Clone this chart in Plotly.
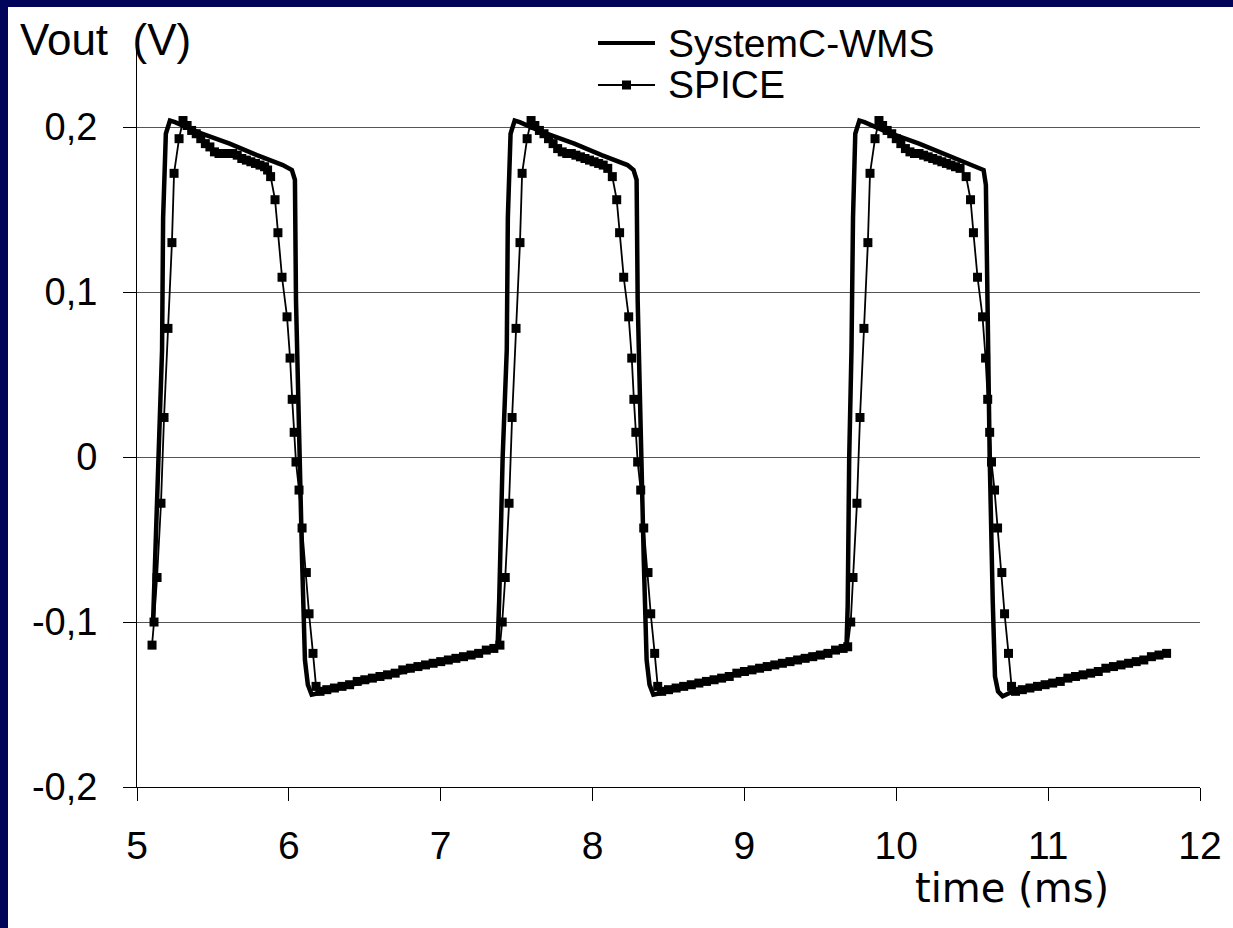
import plotly.graph_objects as go

# ---------------- data ----------------
# SystemC-WMS (thick line)
sysc_t = [5.105, 5.138, 5.165, 5.172, 5.19, 5.217, 5.25, 5.40, 5.61, 5.79, 5.96, 6.02, 6.04, 6.047, 6.067, 6.087, 6.106, 6.125, 6.15, 6.20, 6.50, 6.80, 7.10, 7.36, 7.375,
          7.385, 7.408, 7.435, 7.442, 7.46, 7.487, 7.52, 7.67, 7.88, 8.06, 8.23, 8.27, 8.29, 8.297, 8.317, 8.337, 8.356, 8.375, 8.40, 8.45, 8.80, 9.10, 9.40, 9.665, 9.672,
          9.68, 9.69, 9.705, 9.715, 9.73, 9.757, 9.79, 9.94, 10.15, 10.33, 10.50, 10.575, 10.59, 10.60, 10.615, 10.635, 10.65, 10.67, 10.70, 10.77, 11.10, 11.40, 11.78]
sysc_v = [-0.102, 0.0, 0.065, 0.145, 0.196, 0.204, 0.203, 0.197, 0.190, 0.183, 0.177, 0.174, 0.168, 0.095, 0.0, -0.062, -0.123, -0.138, -0.144, -0.143, -0.136, -0.129, -0.122, -0.116, -0.114,
          -0.087, 0.0, 0.065, 0.145, 0.196, 0.204, 0.203, 0.197, 0.190, 0.183, 0.177, 0.174, 0.168, 0.095, 0.0, -0.062, -0.123, -0.138, -0.144, -0.143, -0.135, -0.128, -0.121, -0.116, -0.115,
          -0.09, 0.0, 0.065, 0.145, 0.196, 0.204, 0.203, 0.197, 0.190, 0.183, 0.177, 0.174, 0.165, 0.095, 0.0, -0.087, -0.133, -0.142, -0.145, -0.142, -0.135, -0.128, -0.119]

# SPICE (thin line with square markers), one list pair per period
spice_t_1 = [5.099, 5.112, 5.132, 5.158, 5.178, 5.204, 5.230, 5.244, 5.277, 5.303,
             5.33, 5.36, 5.39, 5.42, 5.45, 5.48, 5.51, 5.54, 5.57, 5.60, 5.63, 5.66, 5.69, 5.72, 5.75, 5.78, 5.81, 5.84, 5.86, 5.88,
             5.909, 5.928, 5.955, 5.988, 6.008, 6.022, 6.035, 6.047, 6.067, 6.087, 6.115, 6.133, 6.159, 6.179, 6.205,
             6.25, 6.30, 6.35, 6.40, 6.45, 6.50, 6.55, 6.60, 6.65, 6.70, 6.75, 6.80, 6.85, 6.90, 6.95, 7.00, 7.05, 7.10, 7.15, 7.20, 7.25, 7.30, 7.35, 7.39]
spice_v_1 = [-0.114, -0.100, -0.073, -0.028, 0.024, 0.078, 0.130, 0.172, 0.193, 0.204,
             0.201, 0.198, 0.196, 0.193, 0.190, 0.188, 0.185, 0.184, 0.184, 0.184, 0.184, 0.183, 0.181, 0.180, 0.179, 0.178, 0.177, 0.176, 0.174, 0.170,
             0.156, 0.136, 0.109, 0.085, 0.060, 0.035, 0.015, -0.003, -0.020, -0.043, -0.070, -0.095, -0.119, -0.139, -0.142,
             -0.141, -0.140, -0.139, -0.138, -0.136, -0.135, -0.134, -0.133, -0.132, -0.131, -0.129, -0.128, -0.127, -0.126, -0.125, -0.124, -0.123, -0.122, -0.121, -0.120, -0.119, -0.117, -0.116, -0.114]

spice_t_2 = [7.405, 7.425, 7.450, 7.470, 7.496, 7.522, 7.536, 7.569, 7.595,
             7.62, 7.65, 7.68, 7.71, 7.74, 7.77, 7.80, 7.83, 7.86, 7.89, 7.92, 7.95, 7.98, 8.01, 8.04, 8.07, 8.10, 8.13,
             8.159, 8.178, 8.205, 8.238, 8.258, 8.272, 8.285, 8.297, 8.317, 8.337, 8.365, 8.383, 8.409, 8.429, 8.455,
             8.50, 8.55, 8.60, 8.65, 8.70, 8.75, 8.80, 8.85, 8.90, 8.95, 9.00, 9.05, 9.10, 9.15, 9.20, 9.25, 9.30, 9.35, 9.40, 9.45, 9.50, 9.55, 9.60, 9.65, 9.68]
spice_v_2 = [-0.100, -0.073, -0.028, 0.024, 0.078, 0.130, 0.172, 0.193, 0.204,
             0.201, 0.198, 0.196, 0.193, 0.190, 0.187, 0.185, 0.184, 0.184, 0.183, 0.182, 0.181, 0.180, 0.179, 0.178, 0.177, 0.175, 0.170,
             0.156, 0.136, 0.109, 0.085, 0.060, 0.035, 0.015, -0.003, -0.020, -0.043, -0.070, -0.095, -0.119, -0.139, -0.142,
             -0.141, -0.140, -0.139, -0.138, -0.137, -0.136, -0.135, -0.134, -0.133, -0.131, -0.130, -0.129, -0.128, -0.127, -0.126, -0.125, -0.124, -0.123, -0.122, -0.121, -0.120, -0.119, -0.117, -0.116, -0.115]

spice_t_3 = [9.70, 9.715, 9.741, 9.761, 9.787, 9.813, 9.827, 9.860, 9.886,
             9.91, 9.94, 9.97, 10.00, 10.03, 10.06, 10.09, 10.12, 10.15, 10.18, 10.21, 10.24, 10.27, 10.30, 10.33, 10.36, 10.39, 10.42, 10.46,
             10.489, 10.508, 10.535, 10.568, 10.588, 10.602, 10.615, 10.627, 10.647, 10.667, 10.695, 10.713, 10.739, 10.759, 10.785,
             10.83, 10.88, 10.93, 10.98, 11.03, 11.08, 11.13, 11.18, 11.23, 11.28, 11.33, 11.38, 11.43, 11.48, 11.53, 11.58, 11.63, 11.68, 11.73, 11.78]
spice_v_3 = [-0.100, -0.073, -0.028, 0.024, 0.078, 0.130, 0.172, 0.193, 0.204,
             0.201, 0.198, 0.196, 0.193, 0.190, 0.187, 0.185, 0.184, 0.184, 0.183, 0.182, 0.181, 0.180, 0.179, 0.178, 0.177, 0.176, 0.175, 0.170,
             0.156, 0.136, 0.109, 0.085, 0.060, 0.035, 0.015, -0.003, -0.020, -0.043, -0.070, -0.095, -0.119, -0.139, -0.142,
             -0.141, -0.140, -0.139, -0.138, -0.137, -0.136, -0.134, -0.133, -0.132, -0.131, -0.130, -0.128, -0.127, -0.126, -0.125, -0.124, -0.123, -0.121, -0.120, -0.119]

x_ticks = [5, 6, 7, 8, 9, 10, 11, 12]
y_ticks = [-0.2, -0.1, 0.0, 0.1, 0.2]
y_tick_labels = ["-0,2", "-0,1", "0", "0,1", "0,2"]

series_names = ["SystemC-WMS", "SPICE"]

spice_t = spice_t_1 + spice_t_2 + spice_t_3
spice_v = spice_v_1 + spice_v_2 + spice_v_3

# ---------------- figure ----------------
W, H = 1233, 928
ML, MR, MT, MB = 137, 33, 43, 141
PW, PH = W - ML - MR, H - MT - MB
ARIAL = "Liberation Sans, Arial, sans-serif"


def px(xp):
    return (xp - ML) / PW


def py(yp):
    return (H - MB - yp) / PH


fig = go.Figure()
fig.add_trace(go.Scatter(x=sysc_t, y=sysc_v, mode="lines", name=series_names[0],
                         line=dict(color="black", width=4.5)))
fig.add_trace(go.Scatter(x=spice_t, y=spice_v, mode="lines+markers", name=series_names[1],
                         line=dict(color="black", width=1.8),
                         marker=dict(symbol="square", size=9, color="black")))

NAVY = "#02045a"
LEG_Y1, LEG_Y2 = 43, 85
shapes = [
    # navy slide frame: top band and left band
    dict(type="rect", xref="paper", yref="paper", x0=px(-5), x1=px(W + 5), y0=py(7), y1=py(-5),
         fillcolor=NAVY, line=dict(width=0), layer="above"),
    dict(type="rect", xref="paper", yref="paper", x0=px(-5), x1=px(8), y0=py(H + 5), y1=py(-5),
         fillcolor=NAVY, line=dict(width=0), layer="above"),
    # legend samples
    dict(type="line", xref="paper", yref="paper", x0=px(598), x1=px(655), y0=py(LEG_Y1), y1=py(LEG_Y1),
         line=dict(color="black", width=4)),
    dict(type="line", xref="paper", yref="paper", x0=px(598), x1=px(655), y0=py(LEG_Y2), y1=py(LEG_Y2),
         line=dict(color="black", width=1.8)),
    dict(type="rect", xref="paper", yref="paper", x0=px(622), x1=px(631), y0=py(LEG_Y2 + 4.5), y1=py(LEG_Y2 - 4.5),
         fillcolor="black", line=dict(width=0)),
]

annotations = [
    dict(text="Vout\u00a0\u00a0(V)", xref="paper", yref="paper", x=px(18), y=py(40), xanchor="left", yanchor="middle",
         showarrow=False, font=dict(family=ARIAL, size=44, color="black")),
    dict(text="time (ms)", xref="paper", yref="paper", x=px(1012), y=py(888), xanchor="center", yanchor="middle",
         showarrow=False, font=dict(family="DejaVu Sans, Verdana, sans-serif", size=40, color="black")),
    dict(text=series_names[0], xref="paper", yref="paper", x=px(666), y=py(LEG_Y1), xanchor="left", yanchor="middle",
         showarrow=False, font=dict(family=ARIAL, size=39, color="black")),
    dict(text=series_names[1], xref="paper", yref="paper", x=px(666), y=py(LEG_Y2), xanchor="left", yanchor="middle",
         showarrow=False, font=dict(family=ARIAL, size=39, color="black")),
]

fig.update_layout(
    width=W, height=H, autosize=False,
    margin=dict(l=ML, r=MR, t=MT, b=MB, pad=0),
    paper_bgcolor="white", plot_bgcolor="white",
    showlegend=False,
    shapes=shapes, annotations=annotations,
    xaxis=dict(range=[5, 12], tickvals=x_ticks, ticktext=[str(v) for v in x_ticks],
               showgrid=False, zeroline=False, showline=True, linecolor="black", linewidth=1,
               ticks="outside", ticklen=13, tickwidth=1, tickcolor="black",
               tickfont=dict(family=ARIAL, size=39, color="black"), ticklabelstandoff=11),
    yaxis=dict(range=[-0.2, 0.251], tickvals=y_ticks, ticktext=y_tick_labels,
               showgrid=True, gridcolor="#555555", gridwidth=1, zeroline=False,
               showline=True, linecolor="black", linewidth=1,
               ticks="outside", ticklen=13, tickwidth=1, tickcolor="black",
               tickfont=dict(family=ARIAL, size=38, color="black"), ticklabelstandoff=18),
)

fig.write_html("out.html")
